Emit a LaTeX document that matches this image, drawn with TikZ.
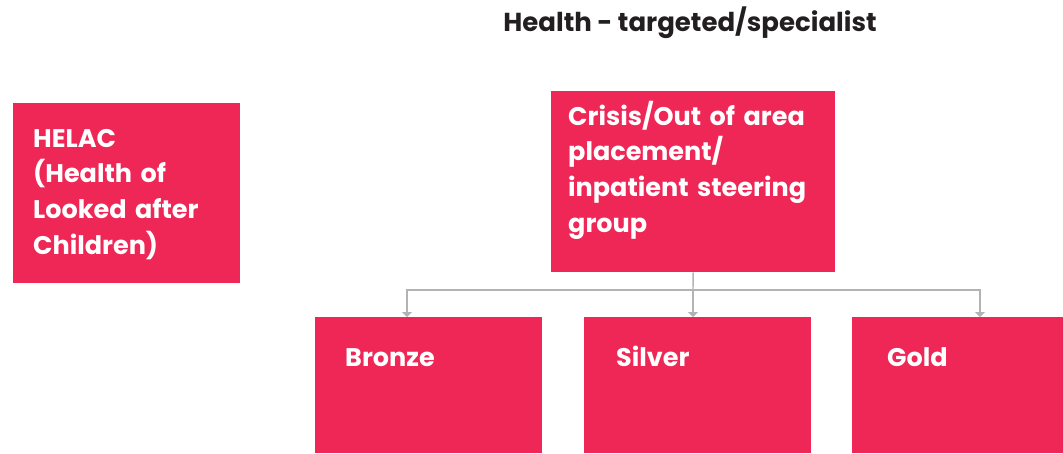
\documentclass[tikz,border=0pt]{standalone}
\usepackage{fontspec}
\setmainfont{Poppins}
\usetikzlibrary{arrows.meta}
\definecolor{boxpink}{HTML}{EE2756}
\definecolor{conngray}{HTML}{B3B3B3}
\definecolor{titledark}{HTML}{231F20}
\tikzset{
  pinkbox/.style={fill=boxpink, draw=none, inner sep=0pt, anchor=north west},
  boxtext/.style={text=white, font=\fontsize{25.5}{35.7}\selectfont\bfseries, anchor=base west, inner sep=0pt, align=left, text width=270pt},
  conn/.style={draw=conngray, line width=1.4pt, -{Triangle[width=10pt,length=5pt]}},
  plainconn/.style={draw=conngray, line width=1.4pt},
}
\begin{document}
\begin{tikzpicture}[x=1pt,y=-1pt]
\useasboundingbox (0,0) rectangle (1063,453);
% title
\node[anchor=base, inner sep=0pt, text=titledark, font=\fontsize{26}{30}\selectfont\bfseries] (title) at (690,31) {Health - targeted/specialist};
% boxes
\node[pinkbox, minimum width=227pt, minimum height=180pt] (helac) at (13,103) {};
\node[pinkbox, minimum width=284pt, minimum height=181pt] (crisis) at (551,91) {};
\node[pinkbox, minimum width=227pt, minimum height=136pt] (bronze) at (315,317) {};
\node[pinkbox, minimum width=227pt, minimum height=136pt] (silver) at (584,317) {};
\node[pinkbox, minimum width=211pt, minimum height=136pt] (gold) at (852,317) {};
% texts
\node[boxtext] (helactext) at (33,147) {HELAC\\(Health of\\Looked after\\Children)};
\node[boxtext] (crisistext) at (568,125) {Crisis/Out of area\\placement/\\inpatient steering\\group};
\node[boxtext] (bronzetext) at (345,366) {Bronze};
\node[boxtext] (silvertext) at (616,366) {Silver};
\node[boxtext] (goldtext) at (887,366) {Gold};
% connectors
\coordinate (split) at (693,290);
\coordinate (bt) at (407,317);
\coordinate (st) at (693,317);
\coordinate (gt) at (980,317);
\draw[plainconn] (crisis.south) -- (split);
\draw[conn] (split) -| (bt);
\draw[conn] (split) -- (st);
\draw[conn] (split) -| (gt);
\end{tikzpicture}
\end{document}
